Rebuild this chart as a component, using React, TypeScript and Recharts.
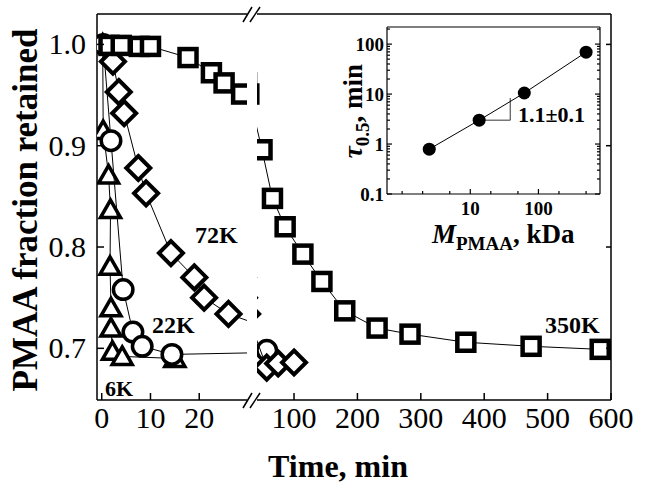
import React from 'react';
import { ComposedChart, Scatter, XAxis, YAxis, ReferenceLine } from 'recharts';

const FONT = '"Liberation Serif", "Times New Roman", serif';
const W = 647;
const H = 485;

// ---------------- data ----------------
const time6K = [0.2, 0.3, 1.4, 1.8, 1.7, 1.9, 1.9, 2.2, 4.2, 15];
const frac6K = [1.0, 0.915, 0.871, 0.837, 0.781, 0.74, 0.72, 0.697, 0.692, 0.69];

const time22K = [0.3, 1.9, 4.4, 6.4, 8.3, 14.4, 57];
const frac22K = [1.0, 0.905, 0.758, 0.716, 0.702, 0.694, 0.698];

const time72K = [2.3, 3.5, 4.6, 7.5, 9.1, 14.2, 19, 21, 26, 57, 75, 100];
const frac72K = [0.983, 0.953, 0.932, 0.878, 0.853, 0.794, 0.77, 0.75, 0.734, 0.681, 0.685, 0.686];

const time350K = [1.5, 4, 7.7, 10, 17.7, 22.5, 25.1, 28.7, 49.5, 66, 86, 114, 144, 180, 231, 283, 371, 474, 583];
const frac350K = [0.999, 0.999, 0.998, 0.998, 0.987, 0.972, 0.962, 0.951, 0.896, 0.848, 0.82, 0.793, 0.766, 0.737, 0.72, 0.714, 0.706, 0.702, 0.699];

// inset (log-log): M_PMAA (kDa) vs tau_0.5 (min)
const insetMass = [2.5, 13.5, 62, 500];
const insetTau = [0.79, 3.0, 10.5, 69];
const slopeMass = [13.5, 38.6];
const slopeTau = [3.0, 8.3];

const yTicks = [0.7, 0.8, 0.9, 1.0];
const leftTicks = [0, 10, 20];
const rightTicks = [100, 200, 300, 400, 500, 600];
const insetXTicks = [1, 2, 5, 10, 20, 50, 100, 200, 500];
const insetXLabels = [10, 100];
const insetYTicks = [0.1, 0.2, 0.3, 0.4, 0.5, 0.6, 0.7, 0.8, 0.9, 1, 2, 3, 4, 5, 6, 7, 8, 9, 10, 20, 30, 40, 50, 60, 70, 80, 90, 100, 200];
const insetYLabels = [0.1, 1, 10, 100];
const INSET_X_DOMAIN = [0.6, 800];
const INSET_Y_DOMAIN = [0.1, 220];

const lg = Math.log10;
const toPts = (ts: number[], vs: number[]) => ts.map((t, i) => ({ t, v: vs[i] }));
const s6K = toPts(time6K, frac6K);
const s22K = toPts(time22K, frac22K);
const s72K = toPts(time72K, frac72K);
const s350K = toPts(time350K, frac350K);
const insetData = insetMass.map((m, i) => ({ lm: lg(m), lt: lg(insetTau[i]) }));

// ---------------- layout ----------------
const PLOT_TOP = 14;
const PLOT_BOTTOM = 400;
const LEFT_X0 = 97;
const LEFT_X1 = 247;
const RIGHT_X0 = 257;
const RIGHT_X1 = 611;
const Y_DOMAIN = [0.649, 1.03];
const LEFT_DOMAIN = [-0.97, 29.8];
const RIGHT_DOMAIN = [41.6, 600];

const IN_L = 387;
const IN_R = 600;
const IN_T = 27;
const IN_B = 194;

// ---------------- shapes ----------------
const Square = (p: any) =>
  p.cx == null ? null : (
    <rect x={p.cx - 8.5} y={p.cy - 8.5} width={17} height={17} fill="#fff" stroke="#000" strokeWidth={4.5} />
  );
const Diamond = (p: any) =>
  p.cx == null ? null : (
    <path
      d={`M${p.cx},${p.cy - 12}L${p.cx + 12},${p.cy}L${p.cx},${p.cy + 12}L${p.cx - 12},${p.cy}Z`}
      fill="#fff"
      stroke="#000"
      strokeWidth={4}
      strokeLinejoin="miter"
    />
  );
const Circle = (p: any) =>
  p.cx == null ? null : <circle cx={p.cx} cy={p.cy} r={9.75} fill="#fff" stroke="#000" strokeWidth={3.5} />;
const Triangle = (p: any) =>
  p.cx == null ? null : (
    <path
      d={`M${p.cx},${p.cy - 9.5}L${p.cx + 10},${p.cy + 8}L${p.cx - 10},${p.cy + 8}Z`}
      fill="#fff"
      stroke="#000"
      strokeWidth={3.5}
      strokeLinejoin="miter"
    />
  );
const Dot = (p: any) => (p.cx == null ? null : <circle cx={p.cx} cy={p.cy} r={6.5} fill="#000" />);

// ---------------- ticks (drawn inward, against the fixed plot edges) ----------------
const BottomTick = (p: any) => (
  <g>
    <line x1={p.x} x2={p.x} y1={PLOT_BOTTOM} y2={PLOT_BOTTOM - 7} stroke="#000" strokeWidth={1.5} />
    <text x={p.x} y={PLOT_BOTTOM + 28} textAnchor="middle" fontFamily={FONT} fontSize={30} fill="#000">
      {p.payload.value}
    </text>
  </g>
);
const TopTick = (p: any) => (
  <line x1={p.x} x2={p.x} y1={PLOT_TOP} y2={PLOT_TOP + 5} stroke="#000" strokeWidth={1.5} />
);
const LeftTick = (p: any) => (
  <g>
    <line x1={LEFT_X0} x2={LEFT_X0 + 7} y1={p.y} y2={p.y} stroke="#000" strokeWidth={1.5} />
    <text x={LEFT_X0 - 11} y={p.y + 10} textAnchor="end" fontFamily={FONT} fontSize={30} fill="#000">
      {Number(p.payload.value).toFixed(1)}
    </text>
  </g>
);
const RightTick = (p: any) => (
  <line x1={RIGHT_X1} x2={RIGHT_X1 - 5} y1={p.y} y2={p.y} stroke="#000" strokeWidth={1.5} />
);

const isMajorLog = (lv: number) => Math.abs(lv - Math.round(lv)) < 1e-6;
const fromLog = (lv: number) => {
  const v = Math.pow(10, lv);
  return v < 1 ? Math.round(v * 10) / 10 : Math.round(v);
};

const InsetBottomTick = (p: any) => {
  const v = fromLog(p.payload.value);
  const lab = insetXLabels.includes(v);
  return (
    <g>
      <line x1={p.x} x2={p.x} y1={IN_B} y2={IN_B - (lab ? 5 : 3)} stroke="#000" strokeWidth={1.2} />
      {lab && (
        <text x={p.x} y={IN_B + 21} textAnchor="middle" fontFamily={FONT} fontWeight="bold" fontSize={19} fill="#000">
          {v}
        </text>
      )}
    </g>
  );
};
const InsetTopTick = (p: any) => {
  const lab = insetXLabels.includes(fromLog(p.payload.value));
  return <line x1={p.x} x2={p.x} y1={IN_T} y2={IN_T + (lab ? 5 : 3)} stroke="#000" strokeWidth={1.2} />;
};
const InsetLeftTick = (p: any) => {
  const lv = p.payload.value;
  const v = fromLog(lv);
  const lab = insetYLabels.includes(v);
  return (
    <g>
      <line x1={IN_L} x2={IN_L + (isMajorLog(lv) ? 5 : 3)} y1={p.y} y2={p.y} stroke="#000" strokeWidth={1.2} />
      {lab && (
        <text x={IN_L - 3} y={p.y + 7} textAnchor="end" fontFamily={FONT} fontWeight="bold" fontSize={19} fill="#000">
          {v}
        </text>
      )}
    </g>
  );
};
const InsetRightTick = (p: any) => {
  const lv = p.payload.value;
  return <line x1={IN_R} x2={IN_R - (isMajorLog(lv) ? 5 : 3)} y1={p.y} y2={p.y} stroke="#000" strokeWidth={1.2} />;
};

const axisLine = { stroke: '#000', strokeWidth: 1.5 };
const insetAxisLine = { stroke: '#000', strokeWidth: 1.2 };
const lineStyle = { stroke: '#000', strokeWidth: 1 };

const layer: React.CSSProperties = { position: 'absolute', left: 0, top: 0, width: W, height: H };

function Series() {
  return [
    <Scatter key="6K" data={s6K} dataKey="v" line={lineStyle} shape={Triangle} isAnimationActive={false} />,
    <Scatter key="22K" data={s22K} dataKey="v" line={lineStyle} shape={Circle} isAnimationActive={false} />,
    <Scatter key="72K" data={s72K} dataKey="v" line={lineStyle} shape={Diamond} isAnimationActive={false} />,
    <Scatter key="350K" data={s350K} dataKey="v" line={lineStyle} shape={Square} isAnimationActive={false} />,
  ];
}

const axisCommon = {
  interval: 0 as const,
  tickSize: 0,
  tickMargin: 0,
  tickLine: false,
  allowDataOverflow: true,
};

export default function App() {
  const XH = 30;
  const TOPH = 10;
  const ixDom = [lg(INSET_X_DOMAIN[0]), lg(INSET_X_DOMAIN[1])];
  const iyDom = [lg(INSET_Y_DOMAIN[0]), lg(INSET_Y_DOMAIN[1])];
  const ixTicks = insetXTicks.map(lg);
  const iyTicks = insetYTicks.map(lg);
  return (
    <div style={{ position: 'absolute', left: 0, top: 0, width: W, height: H, background: '#fff' }}>
      {/* left segment of the broken axis */}
      <div style={layer}>
        <ComposedChart
          width={W}
          height={H}
          margin={{ top: PLOT_TOP - TOPH, bottom: H - PLOT_BOTTOM - XH, left: LEFT_X0 - 20, right: W - LEFT_X1 }}
        >
          <XAxis {...axisCommon} type="number" dataKey="t" domain={LEFT_DOMAIN} ticks={leftTicks} height={XH} axisLine={axisLine} tick={BottomTick} />
          <XAxis {...axisCommon} xAxisId="top" orientation="top" type="number" domain={LEFT_DOMAIN} ticks={leftTicks} height={TOPH} axisLine={axisLine} tick={TopTick} />
          <YAxis {...axisCommon} type="number" dataKey="v" domain={Y_DOMAIN} ticks={yTicks} width={20} axisLine={axisLine} tick={LeftTick} />
          {Series()}
        </ComposedChart>
      </div>
      {/* right segment of the broken axis */}
      <div style={layer}>
        <ComposedChart
          width={W}
          height={H}
          margin={{ top: PLOT_TOP - TOPH, bottom: H - PLOT_BOTTOM - XH, left: RIGHT_X0, right: W - RIGHT_X1 - 10 }}
        >
          <XAxis {...axisCommon} type="number" dataKey="t" domain={RIGHT_DOMAIN} ticks={rightTicks} height={XH} axisLine={axisLine} tick={BottomTick} />
          <XAxis {...axisCommon} xAxisId="top" orientation="top" type="number" domain={RIGHT_DOMAIN} ticks={rightTicks} height={TOPH} axisLine={axisLine} tick={TopTick} />
          <YAxis {...axisCommon} orientation="right" type="number" dataKey="v" domain={Y_DOMAIN} ticks={yTicks} width={10} axisLine={axisLine} tick={RightTick} />
          {Series()}
        </ComposedChart>
      </div>
      {/* inset: log-log, values plotted as log10 on linear axes */}
      <div style={layer}>
        <ComposedChart
          width={W}
          height={H}
          margin={{ top: IN_T - 5, bottom: H - IN_B - 30, left: IN_L - 30, right: W - IN_R - 5 }}
        >
          <XAxis {...axisCommon} type="number" dataKey="lm" domain={ixDom} ticks={ixTicks} height={30} axisLine={insetAxisLine} tick={InsetBottomTick} />
          <XAxis {...axisCommon} xAxisId="top" orientation="top" type="number" domain={ixDom} ticks={ixTicks} height={5} axisLine={insetAxisLine} tick={InsetTopTick} />
          <YAxis {...axisCommon} type="number" dataKey="lt" domain={iyDom} ticks={iyTicks} width={30} axisLine={insetAxisLine} tick={InsetLeftTick} />
          <YAxis {...axisCommon} yAxisId="right" orientation="right" type="number" domain={iyDom} ticks={iyTicks} width={5} axisLine={insetAxisLine} tick={InsetRightTick} />
          <ReferenceLine
            segment={[
              { x: lg(slopeMass[0]), y: lg(slopeTau[0]) },
              { x: lg(slopeMass[1]), y: lg(slopeTau[0]) },
            ]}
            stroke="#555"
            strokeWidth={1.2}
          />
          <ReferenceLine
            segment={[
              { x: lg(slopeMass[1]), y: lg(slopeTau[0]) },
              { x: lg(slopeMass[1]), y: lg(slopeTau[1]) },
            ]}
            stroke="#555"
            strokeWidth={1.2}
          />
          <Scatter data={insetData} dataKey="lt" line={lineStyle} shape={Dot} isAnimationActive={false} />
        </ComposedChart>
      </div>
      {/* titles, annotations and axis-break marks */}
      <svg style={{ ...layer, pointerEvents: 'none' }} width={W} height={H}>
        <g stroke="#000" strokeWidth={1.5}>
          <line x1={243} y1={PLOT_TOP + 8} x2={252} y2={PLOT_TOP - 7} />
          <line x1={250} y1={PLOT_TOP + 8} x2={260} y2={PLOT_TOP - 7} />
          <line x1={243} y1={PLOT_BOTTOM + 8} x2={252} y2={PLOT_BOTTOM - 7} />
          <line x1={250} y1={PLOT_BOTTOM + 8} x2={260} y2={PLOT_BOTTOM - 7} />
        </g>
        <g fontFamily={FONT} fontWeight="bold" fill="#000">
          <text x={338} y={477} textAnchor="middle" fontSize={32}>
            Time, min
          </text>
          <text x={37} y={210} textAnchor="middle" fontSize={35} transform="rotate(-90, 37, 210)">
            PMAA fraction retained
          </text>
          <text x={195} y={243} fontSize={24}>72K</text>
          <text x={152} y={333} fontSize={24}>22K</text>
          <text x={105} y={396} fontSize={22}>6K</text>
          <text x={545} y={333} fontSize={24}>350K</text>
          <text x={518} y={122} fontSize={22}>1.1±0.1</text>
          <text x={432} y={243} fontSize={27}>
            <tspan fontStyle="italic">M</tspan>
            <tspan fontSize={19} dy={7}>PMAA</tspan>
            <tspan dy={-7}>, kDa</tspan>
          </text>
          <text x={362} y={111} textAnchor="middle" fontSize={27} transform="rotate(-90, 362, 111)">
            <tspan fontStyle="italic">τ</tspan>
            <tspan fontSize={19} dy={7}>0.5</tspan>
            <tspan dy={-7}>, min</tspan>
          </text>
        </g>
      </svg>
    </div>
  );
}
